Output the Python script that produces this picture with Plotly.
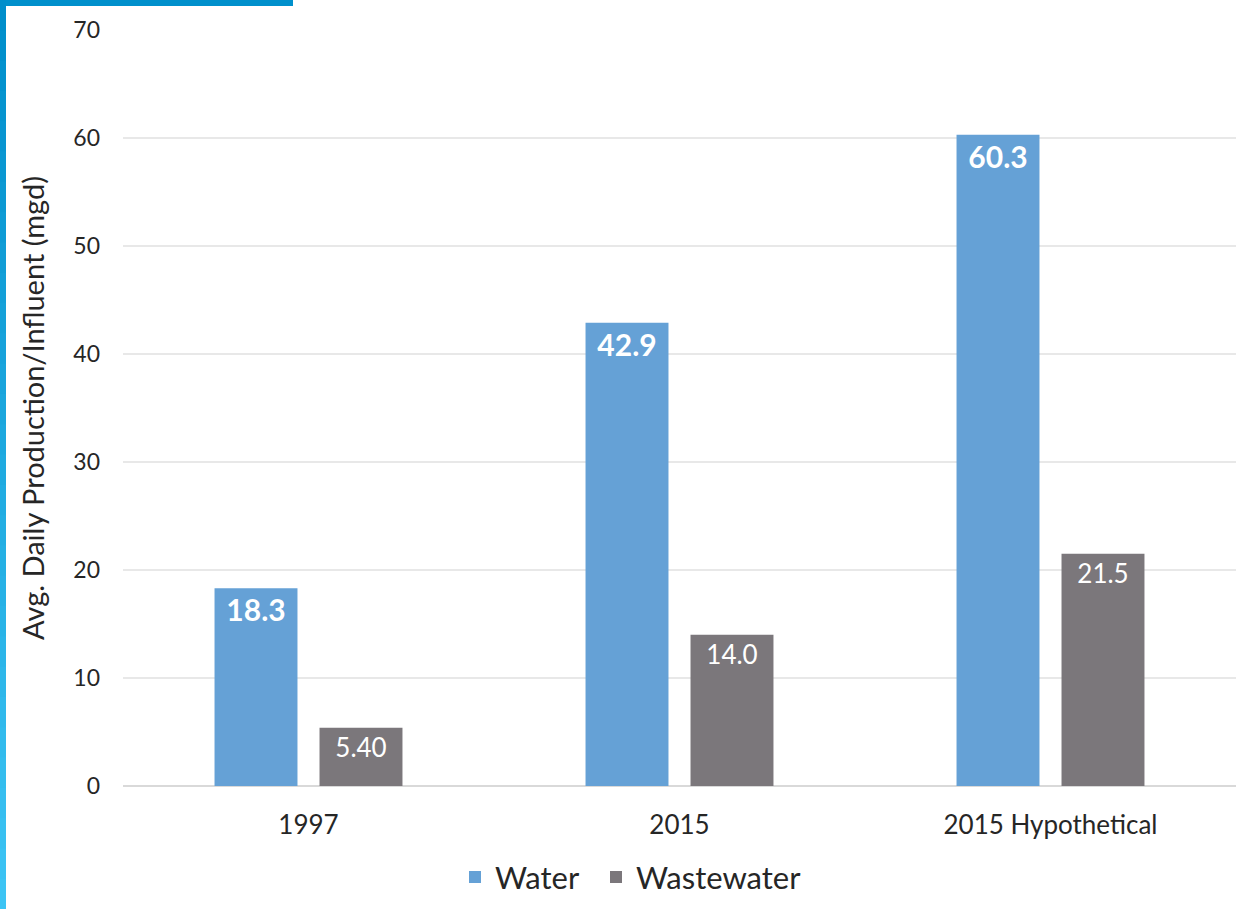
import plotly.graph_objects as go

categories = ["1997", "2015", "2015 Hypothetical"]
water = [18.3, 42.9, 60.3]
wastewater = [5.40, 14.0, 21.5]
water_labels = ["18.3", "42.9", "60.3"]
wastewater_labels = ["5.40", "14.0", "21.5"]

W, H = 1255, 909
ml, mr, mt, mb = 123, 19, 30, 123
pw, ph = W - ml - mr, H - mt - mb
FONT = "Lato"

def px_x(x):
    return (x - ml) / pw

def px_y(y):
    return (H - mb - y) / ph

fig = go.Figure()
fig.add_trace(go.Bar(
    name="Water", x=categories, y=water, text=water_labels,
    marker=dict(color="#65a1d6", line=dict(width=0)),
    textposition="inside", insidetextanchor="end", textangle=0,
    textfont=dict(color="white", size=30, family=FONT, weight="bold"),
    legend="legend",
))
fig.add_trace(go.Bar(
    name="Wastewater", x=categories, y=wastewater, text=wastewater_labels,
    marker=dict(color="#7b777b", line=dict(width=0)),
    textposition="inside", insidetextanchor="end", textangle=0,
    textfont=dict(color="white", size=26, family=FONT),
    legend="legend2",
))

shapes = []
# decorative frame: top bar
shapes.append(dict(type="rect", xref="paper", yref="paper",
                   x0=px_x(0), x1=px_x(293), y0=px_y(6), y1=px_y(0),
                   fillcolor="#0090cc", line=dict(width=0), layer="above"))
# left bar with gradient approximation
n = 30
c0 = (0x00, 0x8e, 0xcb)
c1 = (0x3c, 0xc4, 0xf4)
for i in range(n):
    t = i / (n - 1)
    col = "rgb(%d,%d,%d)" % tuple(round(a + (b - a) * t) for a, b in zip(c0, c1))
    y0 = i * H / n
    y1 = (i + 1) * H / n + 1
    shapes.append(dict(type="rect", xref="paper", yref="paper",
                       x0=px_x(0), x1=px_x(6), y0=px_y(y1), y1=px_y(y0),
                       fillcolor=col, line=dict(width=0), layer="above"))

legend_common = dict(orientation="h", xanchor="left", y=-0.085, yanchor="top",
                     font=dict(size=31, color="#262626"), bgcolor="rgba(0,0,0,0)")

fig.update_layout(
    width=W, height=H,
    margin=dict(l=ml, r=mr, t=mt, b=mb, autoexpand=False),
    paper_bgcolor="white", plot_bgcolor="white",
    barmode="group", bargap=0.434, bargroupgap=0.21,
    font=dict(family=FONT, color="#262626"),
    showlegend=True,
    legend=dict(x=px_x(455), **legend_common),
    legend2=dict(x=px_x(596), **legend_common),
    xaxis=dict(showgrid=False, showline=False, ticks="", automargin=False,
               tickfont=dict(size=26, color="#262626"), ticklabelstandoff=21),
    yaxis=dict(range=[0, 70], dtick=10, showgrid=True, gridcolor="#e8e8e8",
               gridwidth=2, zeroline=True, zerolinecolor="#d9d9d9", zerolinewidth=2,
               showline=False, ticks="", tickfont=dict(size=23, color="#262626"),
               ticklabelstandoff=22, automargin=False,
               title=dict(text="Avg. Daily Production/Influent (mgd)",
                          font=dict(size=29, color="#262626"), standoff=20)),
    shapes=shapes,
)

fig.write_html("out.html", config={"displayModeBar": False},
               post_script="document.body.style.margin='0';")
